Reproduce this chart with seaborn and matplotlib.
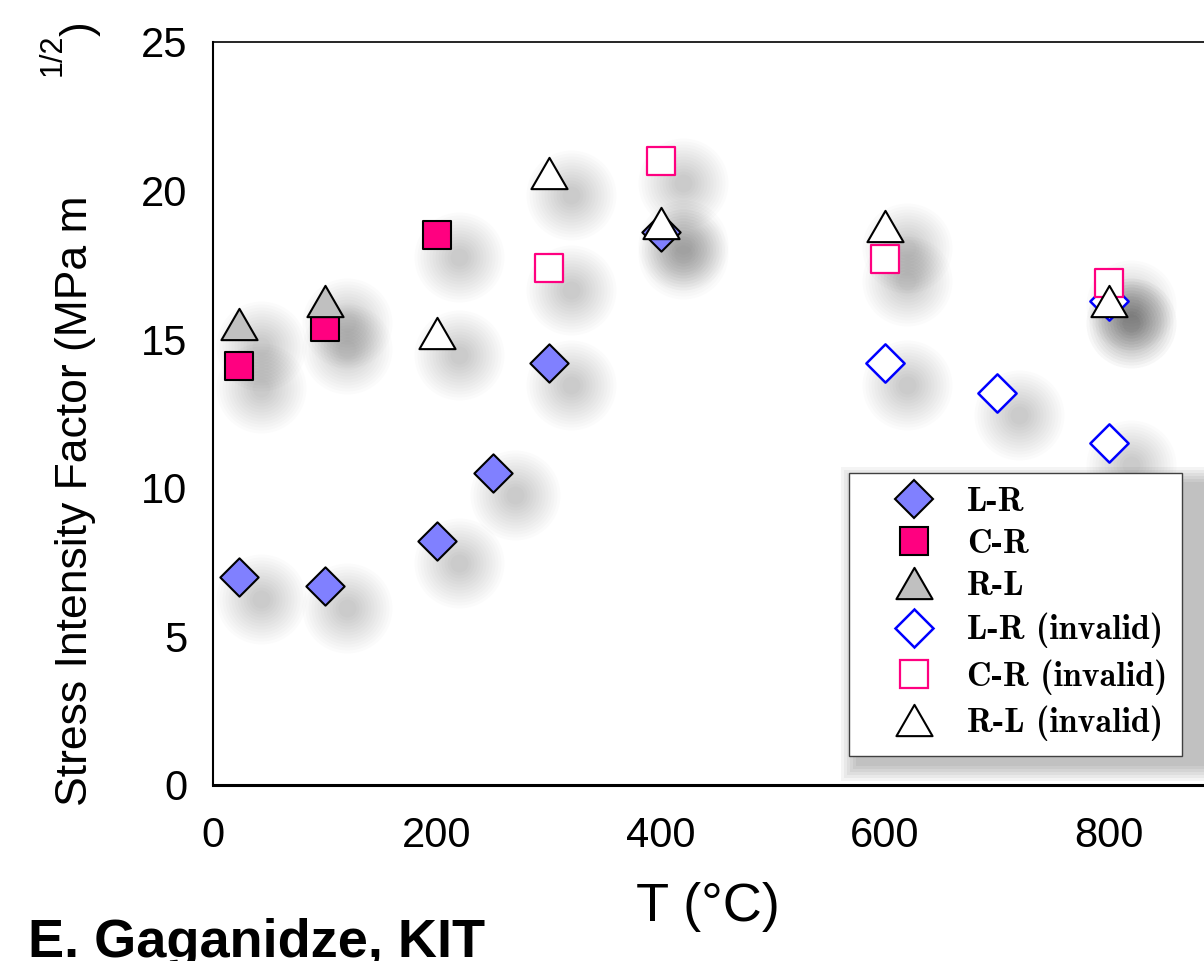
import matplotlib
matplotlib.use('Agg')
import matplotlib.pyplot as plt
import seaborn as sns
from matplotlib.lines import Line2D
from matplotlib.path import Path
from matplotlib.patches import Rectangle
from matplotlib import transforms

# --- data (T in °C, K in MPa m^1/2) ---
lr_T = [23, 100, 200, 250, 300, 400]
lr_K = [7.0, 6.7, 8.2, 10.5, 14.2, 18.6]
cr_T = [23, 100, 200]
cr_K = [14.1, 15.4, 18.5]
rl_T = [23, 100]
rl_K = [15.5, 16.3]
lr_inv_T = [600, 700, 800, 800]
lr_inv_K = [14.2, 13.2, 11.5, 16.3]
cr_inv_T = [300, 400, 600, 800]
cr_inv_K = [17.4, 21.0, 17.7, 16.9]
rl_inv_T = [200, 300, 400, 600, 800]
rl_inv_K = [15.2, 20.6, 18.9, 18.8, 16.3]

series_labels = ['L-R', 'C-R', 'R-L', 'L-R (invalid)', 'C-R (invalid)', 'R-L (invalid)']
x_ticks = [0, 200, 400, 600, 800]
y_ticks = [0, 5, 10, 15, 20, 25]

sns.set_theme(style='white')
plt.rcParams['font.family'] = ['Liberation Sans', 'DejaVu Sans']
plt.rcParams['text.color'] = 'black'
plt.rcParams['axes.labelcolor'] = 'black'

# equilateral triangle marker
tri = Path([(0, 1), (-1.1547, -1), (1.1547, -1), (0, 1)], closed=True)

# (T, K, marker, markersize pt, face, edge, edge width)
styles = [
    (lr_T, lr_K, 'D', 19.5, '#8080ff', 'black', 1.5),
    (cr_T, cr_K, 's', 19.5, '#ff0080', 'black', 1.5),
    (rl_T, rl_K, tri, 26, '#c0c0c0', 'black', 1.5),
    (lr_inv_T, lr_inv_K, 'D', 19.5, 'white', '#0000ff', 1.8),
    (cr_inv_T, cr_inv_K, 's', 19.5, 'white', '#ff0080', 1.6),
    (rl_inv_T, rl_inv_K, tri, 26, 'white', 'black', 1.5),
]

fig = plt.figure(figsize=(12.04, 9.61), dpi=100)
ax = fig.add_axes([213 / 1204, 176 / 961, 1120 / 1204, 743 / 961])

# soft drop shadows under the markers
shadow_tr = transforms.offset_copy(ax.transData, fig=fig, x=22, y=-22, units='dots')
all_T = lr_T + cr_T + rl_T + lr_inv_T + cr_inv_T + rl_inv_T
all_K = lr_K + cr_K + rl_K + lr_inv_K + cr_inv_K + rl_inv_K
for d in range(90, 12, -6):
    ax.scatter(all_T, all_K, s=(d * 0.72) ** 2, color='black', alpha=0.015,
               linewidths=0, transform=shadow_tr, zorder=1)

for i, (T, K, mk, ms, fc, ec, lw) in enumerate(styles):
    sns.scatterplot(x=T, y=K, marker=mk, s=ms ** 2, color=fc, edgecolor=ec,
                    linewidth=lw, ax=ax, zorder=3 + i, clip_on=False)

ax.set_xlim(0, 1000)
ax.set_ylim(0, 25)
ax.set_xticks(x_ticks)
ax.set_yticks(y_ticks)
ax.tick_params(axis='both', direction='out', length=9.5, width=1.5,
               labelsize=30, colors='black')
ax.tick_params(axis='y', pad=9)
ax.tick_params(axis='x', pad=13)
ax.spines['left'].set_linewidth(1.5)
ax.spines['bottom'].set_linewidth(2.2)
ax.spines['top'].set_linewidth(1.2)
for s in ['left', 'bottom', 'top']:
    ax.spines[s].set_color('black')
ax.spines['right'].set_visible(False)
ax.grid(False)

ax.set_xlabel('T (°C)', fontsize=39)
ax.xaxis.set_label_coords((708 - 213) / 1120, (785 - 882) / 743)
ax.xaxis.label.set_va('top')

# y label built in pieces, like the original
fig.text(76 / 1204, (961 - 806) / 961, 'Stress Intensity Factor (MPa m',
         rotation=90, ha='center', va='bottom', fontsize=32)
fig.text(53 / 1204, (961 - 55) / 961, '1/2', rotation=90, ha='center',
         va='center', fontsize=22)
fig.text(80 / 1204, (961 - 29) / 961, ')', rotation=90, ha='center',
         va='center', fontsize=32)

fig.text(28 / 1204, (961 - 957) / 961, 'E. Gaganidze, KIT', fontsize=39,
         fontweight='bold', va='baseline', ha='left')

# legend
handles = [Line2D([], [], linestyle='none', marker=mk, markersize=ms,
                  markerfacecolor=fc, markeredgecolor=ec, markeredgewidth=lw)
           for (_, _, mk, ms, fc, ec, lw) in styles]
leg = ax.legend(handles, series_labels, loc='upper left',
                bbox_to_anchor=(849 / 1204, 1 - 473 / 961),
                bbox_transform=fig.transFigure, borderaxespad=0,
                prop={'family': 'cmb10', 'size': 24.5},
                handlelength=3.0, handletextpad=0.05, borderpad=0.42,
                labelspacing=0.32, fancybox=False, framealpha=1)
leg.get_frame().set_edgecolor('#404040')
leg.get_frame().set_linewidth(1.0)
leg.set_zorder(20)

# legend drop shadow, below the legend frame
for k in range(6):
    g = 16 - 3 * k
    ax.add_patch(Rectangle(((849 + 8 - g) / 1204, (961 - 755 - 10 - g) / 961),
                           (347 + 2 * g) / 1204, (282 + 2 * g) / 961,
                           transform=fig.transFigure, color='black',
                           alpha=0.045, lw=0, zorder=15, clip_on=False))

fig.savefig('out.png', dpi=100)
